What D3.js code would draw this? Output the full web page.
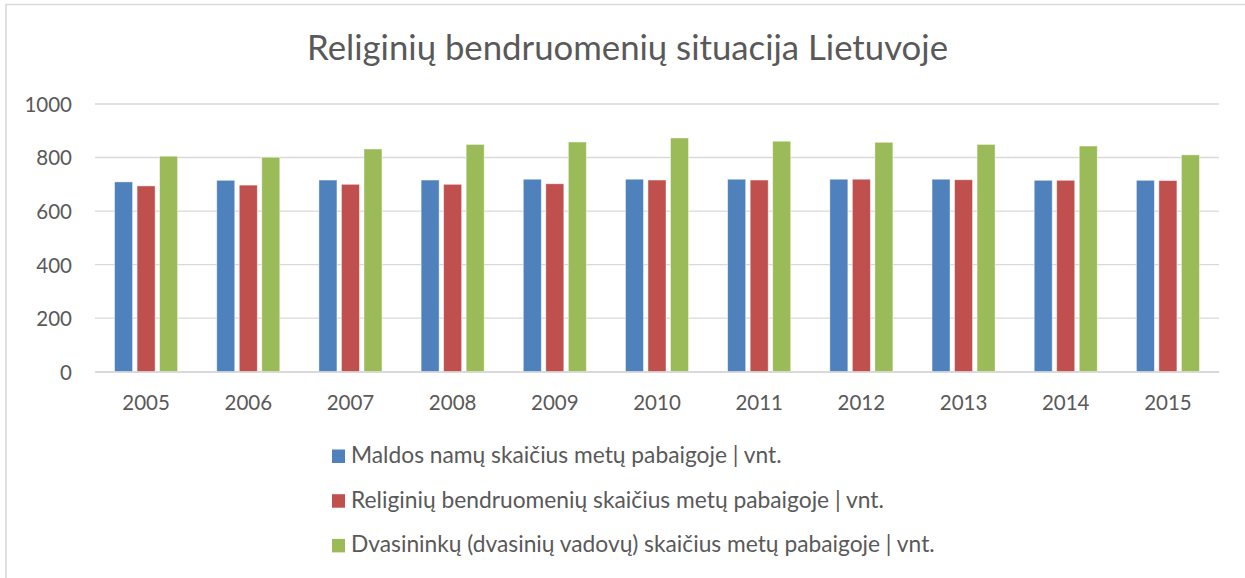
<!DOCTYPE html>
<html lang="lt">
<head>
<meta charset="utf-8">
<title>Religinių bendruomenių situacija Lietuvoje</title>
<script src="https://cdn.jsdelivr.net/npm/d3@7/dist/d3.min.js"></script>
<style>
  html, body { margin: 0; padding: 0; background: #fff; }
  svg { display: block; font-family: Lato, "Open Sans", "DejaVu Sans", sans-serif; }
</style>
</head>
<body>
<svg id="chart" width="1245" height="578"></svg>
<script>
// Year categories
const years = ["2005", "2006", "2007", "2008", "2009", "2010", "2011", "2012", "2013", "2014", "2015"];

// Series values (units at year end)
const maldosNamai = [709, 715, 716, 716, 719, 719, 719, 719, 719, 715, 715];
const bendruomenes = [694, 697, 700, 700, 702, 716, 716, 719, 717, 715, 714];
const dvasininkai = [805, 801, 832, 849, 858, 873, 861, 857, 849, 843, 810];

// Series names as shown in the legend
const seriesNames = [
  "Maldos namų skaičius metų pabaigoje | vnt.",
  "Religinių bendruomenių skaičius metų pabaigoje | vnt.",
  "Dvasininkų (dvasinių vadovų) skaičius metų pabaigoje | vnt."
];

// Value axis ticks
const yTicks = [0, 200, 400, 600, 800, 1000];

const seriesValues = [maldosNamai, bendruomenes, dvasininkai];
const colors = ["#4F81BD", "#C0504D", "#9BBB59"];
const textColor = "#595959";
const gridColor = "#D9D9D9";

const svg = d3.select("#chart");

// Shrinks or grows a text's font size so that it spans the given width
function fitWidth(sel, width) {
  sel.each(function () {
    const t = d3.select(this);
    const size = parseFloat(t.attr("font-size"));
    const w = this.getComputedTextLength();
    if (w > 0) t.attr("font-size", (size * width / w).toFixed(2));
  });
}

// Chart area border (open to the right and bottom)
svg.append("path")
  .attr("d", "M6,590V4.5H1250")
  .attr("fill", "none")
  .attr("stroke", gridColor)
  .attr("stroke-width", 1.6);

// Title
svg.append("text")
  .attr("x", 627.5)
  .attr("y", 60)
  .attr("text-anchor", "middle")
  .attr("font-size", 30)
  .attr("font-weight", 400)
  .attr("fill", textColor)
  .text("Religinių bendruomenių situacija Lietuvoje")
  .call(fitWidth, 641);

// Scales
const plot = { left: 95, right: 1219, top: 104, bottom: 371.7 };

const x0 = d3.scaleBand()
  .domain(years)
  .range([plot.left, plot.right])
  .padding(0);

const groupWidth = x0.bandwidth() * 0.617;
const x1 = d3.scaleBand()
  .domain(d3.range(seriesValues.length))
  .range([(x0.bandwidth() - groupWidth) / 2, (x0.bandwidth() + groupWidth) / 2])
  .paddingInner(0.2)
  .paddingOuter(0);

const y = d3.scaleLinear()
  .domain([0, 1000])
  .range([plot.bottom, plot.top]);

// Horizontal gridlines
svg.append("g")
  .selectAll("line")
  .data(yTicks)
  .join("line")
  .attr("x1", plot.left)
  .attr("x2", plot.right)
  .attr("y1", d => y(d))
  .attr("y2", d => y(d))
  .attr("stroke", gridColor)
  .attr("stroke-width", 1.4);

// Value axis labels
const yAxis = svg.append("g")
  .attr("transform", `translate(${plot.left},0)`)
  .call(d3.axisLeft(y).tickValues(yTicks).tickFormat(d3.format("d")).tickSize(0).tickPadding(23));
yAxis.select(".domain").remove();
yAxis.selectAll("text")
  .attr("font-family", "Lato, 'Open Sans', sans-serif")
  .attr("font-size", 20.5)
  .attr("fill", textColor)
  .attr("dy", "0.36em");

// Bars
const groups = svg.append("g")
  .selectAll("g")
  .data(years)
  .join("g")
  .attr("transform", d => `translate(${x0(d)},0)`);

groups.selectAll("rect")
  .data((d, i) => seriesValues.map((vals, s) => ({ s, v: vals[i] })))
  .join("rect")
  .attr("x", d => x1(d.s))
  .attr("width", x1.bandwidth())
  .attr("y", d => y(d.v))
  .attr("height", d => y(0) - y(d.v))
  .attr("fill", d => colors[d.s])
  .attr("stroke", "#fff")
  .attr("stroke-opacity", 0.55)
  .attr("stroke-width", 0.8);

// Category axis baseline and labels
const xAxis = svg.append("g")
  .attr("transform", `translate(0,${plot.bottom})`)
  .call(d3.axisBottom(x0).tickSize(0).tickPadding(0));
xAxis.select(".domain")
  .attr("stroke", gridColor)
  .attr("stroke-width", 1.6);
xAxis.selectAll("text")
  .attr("font-family", "Lato, 'Open Sans', sans-serif")
  .attr("font-size", 20.5)
  .attr("fill", textColor)
  .attr("dy", 0)
  .attr("y", 38.5);

// Legend
const legend = svg.append("g")
  .selectAll("g")
  .data(seriesNames)
  .join("g")
  .attr("transform", (d, i) => `translate(332,${449.5 + i * 44.7})`);

legend.append("rect")
  .attr("width", 13)
  .attr("height", 13.5)
  .attr("fill", (d, i) => colors[i]);

const legendWidths = [431, 533, 584];
legend.append("text")
  .attr("x", 19)
  .attr("y", 13.3)
  .attr("font-size", 19)
  .attr("fill", textColor)
  .text(d => d)
  .each(function (d, i) { d3.select(this).call(fitWidth, legendWidths[i]); });
</script>
</body>
</html>
